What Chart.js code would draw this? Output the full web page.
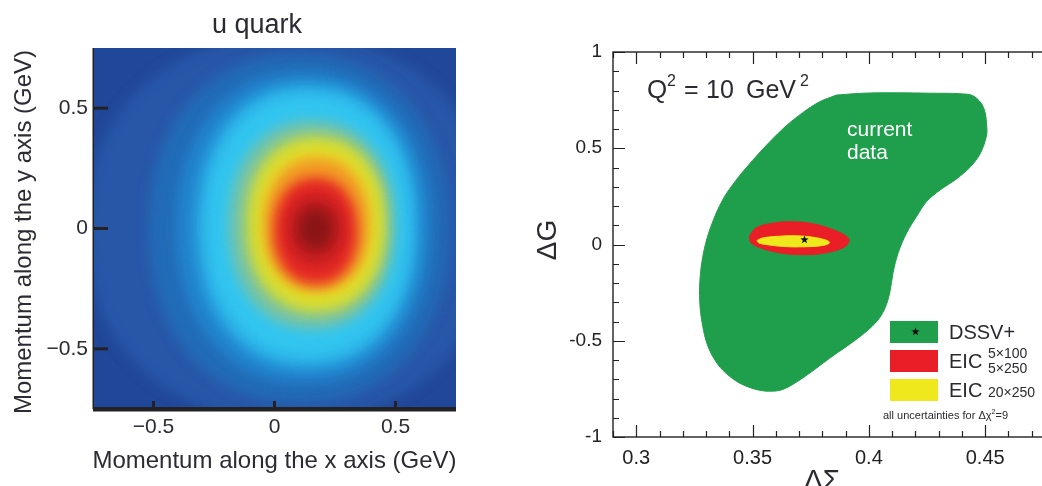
<!DOCTYPE html>
<html>
<head>
<meta charset="utf-8">
<script src="https://cdn.jsdelivr.net/npm/chart.js@4.4.1/dist/chart.umd.min.js"></script>
<style>
html, body { margin: 0; padding: 0; background: #fff; overflow: hidden; width: 1042px; height: 486px; }
#quark { position: absolute; left: 0; top: 0; }
#spin { position: absolute; left: 530px; top: 0; }
</style>
</head>
<body>
<canvas id="quark" width="480" height="486"></canvas>
<canvas id="spin" width="560" height="486"></canvas>
<script>
// ---- left panel: u quark density, contour levels (outer -> inner)
const levelCenterX = [0.06, 0.10, 0.12, 0.135, 0.14, 0.155, 0.17, 0.176, 0.174, 0.17, 0.17, 0.17, 0.17];
const levelCenterY = [0, 0, 0.005, 0.01, 0.012, 0.015, 0.017, 0.017, 0.018, -0.01, -0.005, 0, 0];
const levelHalfWidth = [0.84, 0.62, 0.52, 0.455, 0.41, 0.34, 0.29, 0.257, 0.215, 0.17, 0.12, 0.075, 0.04];
const levelHalfHeight = [0.80, 0.72, 0.64, 0.585, 0.535, 0.43, 0.37, 0.328, 0.275, 0.22, 0.15, 0.09, 0.05];
const levelColors = ['#2857a8', '#226cb8', '#2287cf', '#2cb3e9', '#33c6f0', '#78c4a6',
                     '#c5d846', '#e4e028', '#f39b26', '#e62a26', '#c81f22', '#98191a', '#891515'];
const momentumTicks = [-0.5, 0, 0.5];
const momentumLabels = ['\u22120.5', '0', '0.5'];

// ---- right panel: Delta Sigma / Delta G uncertainty regions
const currentSigma = [0.386, 0.3975, 0.4119, 0.4263, 0.4392, 0.445, 0.4493, 0.4507, 0.4504, 0.4478, 0.4435,
  0.4378, 0.4306, 0.4248, 0.4205, 0.4162, 0.4126, 0.4104, 0.409, 0.4068, 0.4032, 0.3961, 0.3831, 0.3716,
  0.363, 0.3572, 0.3515, 0.3443, 0.3385, 0.3342, 0.3306, 0.3285, 0.3273, 0.3275, 0.3292, 0.3321, 0.3371,
  0.3429, 0.35, 0.3572, 0.3644, 0.3716, 0.3788, 0.386];
const currentG = [0.776, 0.786, 0.788, 0.786, 0.783, 0.771, 0.711, 0.608, 0.557, 0.471, 0.402,
  0.342, 0.283, 0.223, 0.146, 0.060, -0.043, -0.146, -0.248, -0.334, -0.402, -0.479, -0.591, -0.693,
  -0.753, -0.762, -0.753, -0.719, -0.668, -0.608, -0.522, -0.420, -0.300, -0.163, -0.026, 0.094, 0.231,
  0.334, 0.437, 0.531, 0.616, 0.685, 0.741, 0.776];
const eicLowSigma = [0.3486, 0.3515, 0.3587, 0.3673, 0.3759, 0.3846, 0.3903, 0.3915, 0.3889, 0.3802, 0.3716, 0.363, 0.3544, 0.3493, 0.3486];
const eicLowG = [0.043, 0.086, 0.111, 0.118, 0.108, 0.077, 0.043, 0.017, -0.017, -0.046, -0.053, -0.046, -0.022, 0.009, 0.043];
const eicHighSigma = [0.3519, 0.3544, 0.3616, 0.3688, 0.3759, 0.3817, 0.3831, 0.3802, 0.3716, 0.363, 0.3558, 0.3526, 0.3519];
const eicHighG = [0.021, 0.034, 0.043, 0.045, 0.038, 0.022, 0.009, -0.005, -0.012, -0.010, 0.000, 0.009, 0.021];
const bestFit = { x: 0.3723, y: 0.026 };
const sigmaTicks = [0.3, 0.35, 0.4, 0.45];
const sigmaLabels = ['0.3', '0.35', '0.4', '0.45'];
const gTicks = [-1, -0.5, 0, 0.5, 1];
const gLabels = ['-1', '-0.5', '0', '0.5', '1'];

Chart.defaults.font.family = "'Liberation Sans', Arial, sans-serif";
const textColor = '#2b2b33';

function contourPoints(i) {
  const pts = [];
  const p = 2.2;
  for (let k = 0; k <= 90; k++) {
    const t = (k / 90) * Math.PI * 2;
    const c = Math.cos(t), s = Math.sin(t);
    pts.push({
      x: levelCenterX[i] + levelHalfWidth[i] * Math.sign(c) * Math.pow(Math.abs(c), 2 / p),
      y: levelCenterY[i] + levelHalfHeight[i] * Math.sign(s) * Math.pow(Math.abs(s), 2 / p)
    });
  }
  return pts;
}

// first dataset is drawn on top, so innermost level goes first
const quarkSets = [];
for (let i = levelColors.length - 1; i >= 0; i--) {
  quarkSets.push({
    data: contourPoints(i), showLine: true, fill: 'shape', tension: 0,
    backgroundColor: levelColors[i], borderColor: levelColors[i], borderWidth: 1, pointRadius: 0
  });
}
quarkSets.push({
  data: [{x: -1, y: -1}, {x: 1, y: -1}, {x: 1, y: 1}, {x: -1, y: 1}, {x: -1, y: -1}],
  showLine: true, fill: 'shape', tension: 0,
  backgroundColor: '#21479a', borderColor: '#21479a', borderWidth: 1, pointRadius: 0
});

const blurPlugin = {
  id: 'blur',
  beforeDatasetsDraw(chart) { chart.ctx.save(); chart.ctx.filter = 'blur(6px)'; },
  afterDatasetsDraw(chart) { chart.ctx.restore(); }
};

const quarkDecor = {
  id: 'quarkDecor',
  afterDraw(chart) {
    const ctx = chart.ctx;
    const a = chart.chartArea;
    const xs = chart.scales.x, ys = chart.scales.y;
    ctx.save();
    ctx.fillStyle = '#222';
    ctx.fillRect(a.left, a.bottom - 2, a.right - a.left, 4.5);
    ctx.fillRect(a.left - 0.5, a.top, 1.5, a.bottom - a.top);
    ctx.strokeStyle = '#222';
    ctx.lineWidth = 3;
    momentumTicks.forEach(v => {
      const y = ys.getPixelForValue(v);
      ctx.beginPath(); ctx.moveTo(a.left, y); ctx.lineTo(a.left + 15, y); ctx.stroke();
      const x = xs.getPixelForValue(v);
      ctx.beginPath(); ctx.moveTo(x, a.bottom); ctx.lineTo(x, a.bottom - 8); ctx.stroke();
    });
    ctx.fillStyle = textColor;
    ctx.textAlign = 'center';
    ctx.textBaseline = 'alphabetic';
    ctx.font = "27px 'Liberation Sans', Arial, sans-serif";
    ctx.fillText('u quark', 257, 33);
    ctx.font = "24px 'Liberation Sans', Arial, sans-serif";
    ctx.textBaseline = 'middle';
    ctx.fillText('Momentum along the x axis (GeV)', (a.left + a.right) / 2, 461);
    ctx.translate(24, 232);
    ctx.rotate(-Math.PI / 2);
    ctx.fillText('Momentum along the y axis (GeV)', 0, 0);
    ctx.restore();
  }
};

new Chart(document.getElementById('quark'), {
  type: 'scatter',
  data: { datasets: quarkSets },
  options: {
    responsive: false,
    animation: false,
    layout: { padding: { top: 48, right: 24, left: 0, bottom: 0 } },
    plugins: { legend: { display: false }, tooltip: { enabled: false } },
    scales: {
      x: {
        type: 'linear', min: -0.75, max: 0.75,
        grid: { display: false, drawTicks: false }, border: { display: false },
        afterBuildTicks: s => { s.ticks = momentumTicks.map(v => ({ value: v })); },
        afterFit: s => { s.height = 77; },
        ticks: { padding: 6, color: textColor, font: { size: 21 }, autoSkip: false, maxRotation: 0,
                 callback: v => momentumLabels[momentumTicks.indexOf(v)] }
      },
      y: {
        type: 'linear', min: -0.75, max: 0.75,
        grid: { display: false, drawTicks: false }, border: { display: false },
        afterBuildTicks: s => { s.ticks = momentumTicks.map(v => ({ value: v })); },
        afterFit: s => { s.width = 93; },
        ticks: { padding: 5, color: textColor, font: { size: 21 }, autoSkip: false,
                 callback: v => momentumLabels[momentumTicks.indexOf(v)] }
      }
    }
  },
  plugins: [blurPlugin, quarkDecor]
});

// ---- right panel
const starImg = document.createElement('canvas');
starImg.width = 9; starImg.height = 9;
(function () {
  const c = starImg.getContext('2d');
  c.fillStyle = '#111';
  c.beginPath();
  for (let k = 0; k < 10; k++) {
    const r = k % 2 === 0 ? 4.4 : 1.8;
    const t = -Math.PI / 2 + k * Math.PI / 5;
    const px = 4.5 + r * Math.cos(t), py = 4.8 + r * Math.sin(t);
    if (k === 0) c.moveTo(px, py); else c.lineTo(px, py);
  }
  c.closePath();
  c.fill();
})();

const green = '#1f9f4b', red = '#e91e26', yellow = '#efe81c';
const toPts = (xs, ys) => xs.map((x, i) => ({ x: x, y: ys[i] }));

const spinDecor = {
  id: 'spinDecor',
  afterDraw(chart) {
    const ctx = chart.ctx;
    const a = chart.chartArea;
    const xs = chart.scales.x, ys = chart.scales.y;
    ctx.save();
    ctx.strokeStyle = '#222';
    ctx.lineWidth = 1.4;
    ctx.strokeRect(a.left, a.top, a.right - a.left, a.bottom - a.top);
    ctx.lineWidth = 1.2;
    for (let k = 29; k <= 48; k++) {
      const v = k / 100;
      const x = Math.round(xs.getPixelForValue(v)) + 0.5;
      const len = (k % 5 === 0) ? 12 : 6;
      ctx.beginPath();
      ctx.moveTo(x, a.bottom); ctx.lineTo(x, a.bottom - len);
      ctx.moveTo(x, a.top); ctx.lineTo(x, a.top + len);
      ctx.stroke();
    }
    for (let k = -10; k <= 10; k++) {
      const y = Math.round(ys.getPixelForValue(k / 10)) + 0.5;
      const len = (k % 5 === 0) ? 12 : 6;
      ctx.beginPath();
      ctx.moveTo(a.left, y); ctx.lineTo(a.left + len, y);
      ctx.moveTo(a.right, y); ctx.lineTo(a.right - len, y);
      ctx.stroke();
    }
    const f = s => s + "px 'Liberation Sans', Arial, sans-serif";
    ctx.fillStyle = '#2a2a30';
    ctx.textBaseline = 'alphabetic';
    ctx.textAlign = 'left';
    // Q^2 = 10 GeV^2
    ctx.font = f(26); ctx.fillText('Q', 117, 98);
    ctx.font = f(16); ctx.fillText('2', 137, 86);
    ctx.font = f(25); ctx.fillText('=', 154, 98);
    ctx.fillText('10', 176, 98);
    ctx.fillText('GeV', 216, 98);
    ctx.font = f(16); ctx.fillText('2', 270, 86);
    // region label
    ctx.fillStyle = '#fff';
    ctx.font = f(21);
    ctx.fillText('current', 317, 136);
    ctx.fillText('data', 317, 159);
    // legend
    ctx.fillStyle = green; ctx.fillRect(360, 321, 48, 22);
    ctx.fillStyle = red; ctx.fillRect(360, 350, 48, 22);
    ctx.fillStyle = yellow; ctx.fillRect(360, 379, 48, 22);
    ctx.drawImage(starImg, 381, 327);
    ctx.fillStyle = '#2a2a30';
    ctx.font = f(20);
    ctx.fillText('DSSV+', 419, 339);
    ctx.fillText('EIC', 419, 368);
    ctx.fillText('EIC', 419, 397);
    ctx.font = f(14);
    ctx.fillText('5\u00d7100', 458, 358);
    ctx.fillText('5\u00d7250', 458, 373);
    ctx.fillText('20\u00d7250', 458, 397);
    ctx.font = f(11);
    ctx.fillText('all uncertainties for \u0394\u03c7', 353, 419);
    const w = ctx.measureText('all uncertainties for \u0394\u03c7').width;
    ctx.font = f(7); ctx.fillText('2', 353 + w, 414);
    ctx.font = f(11); ctx.fillText('=9', 353 + w + 4, 419);
    // axis titles
    ctx.fillStyle = '#2a2a30';
    ctx.textAlign = 'center';
    ctx.font = f(28);
    ctx.fillText('\u0394\u03a3', 292, 489);
    ctx.translate(18, 240);
    ctx.rotate(-Math.PI / 2);
    ctx.textBaseline = 'middle';
    ctx.fillText('\u0394G', 0, 0);
    ctx.restore();
  }
};

new Chart(document.getElementById('spin'), {
  type: 'scatter',
  data: {
    datasets: [
      { data: [bestFit], pointStyle: starImg, pointRadius: 4, showLine: false },
      { data: toPts(eicHighSigma, eicHighG), showLine: true, fill: 'shape', tension: 0.4,
        backgroundColor: yellow, borderColor: yellow, borderWidth: 1, pointRadius: 0 },
      { data: toPts(eicLowSigma, eicLowG), showLine: true, fill: 'shape', tension: 0.4,
        backgroundColor: red, borderColor: red, borderWidth: 1, pointRadius: 0 },
      { data: toPts(currentSigma, currentG), showLine: true, fill: 'shape', tension: 0.35,
        backgroundColor: green, borderColor: green, borderWidth: 1, pointRadius: 0 }
    ]
  },
  options: {
    responsive: false,
    animation: false,
    layout: { padding: { top: 52, right: 35, left: 0, bottom: 0 } },
    plugins: { legend: { display: false }, tooltip: { enabled: false } },
    scales: {
      x: {
        type: 'linear', min: 0.29, max: 0.48,
        grid: { display: false, drawTicks: false }, border: { display: false },
        afterBuildTicks: s => { s.ticks = sigmaTicks.map(v => ({ value: v })); },
        afterFit: s => { s.height = 49; },
        ticks: { padding: 9, color: '#222', font: { size: 20 }, autoSkip: false, maxRotation: 0,
                 callback: v => sigmaLabels[sigmaTicks.indexOf(v)] }
      },
      y: {
        type: 'linear', min: -1, max: 1,
        grid: { display: false, drawTicks: false }, border: { display: false },
        afterBuildTicks: s => { s.ticks = gTicks.map(v => ({ value: v })); },
        afterFit: s => { s.width = 83; },
        ticks: { padding: 11, color: '#222', font: { size: 19 }, autoSkip: false,
                 callback: v => gLabels[gTicks.indexOf(v)] }
      }
    }
  },
  plugins: [spinDecor]
});
</script>
</body>
</html>
